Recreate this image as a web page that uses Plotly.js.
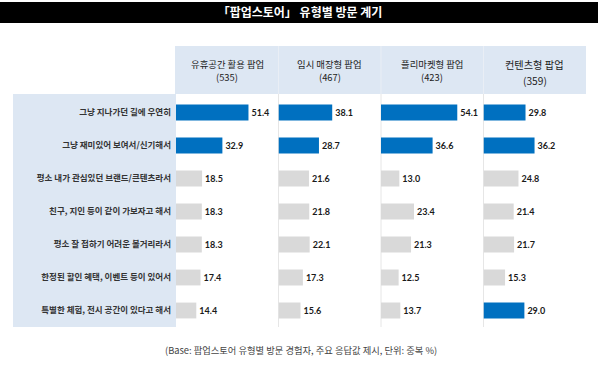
<!DOCTYPE html>
<html>
<head>
<meta charset="utf-8">
<script src="https://cdn.plot.ly/plotly-3.0.1.min.js"></script>
<style>html,body{margin:0;padding:0;background:#fff;}#chart{width:600px;height:375px;}</style>
</head>
<body>
<div id="chart"></div>
<script>
const chartTitle = '「팝업스토어」 유형별 방문 계기';
const categories = [
  '그냥 지나가던 길에 우연히',
  '그냥 재미있어 보여서/신기해서',
  '평소 내가 관심있던 브랜드/콘텐츠라서',
  '친구, 지인 등이 같이 가보자고 해서',
  '평소 잘 접하기 어려운 볼거리라서',
  '한정된 할인 혜택, 이벤트 등이 있어서',
  '특별한 체험, 전시 공간이 있다고 해서'
];
const groupNames = ['유휴공간 활용 팝업', '임시 매장형 팝업', '플리마켓형 팝업', '컨텐츠형 팝업'];
const groupBases = [535, 467, 423, 359];
const idleSpace = [51.4, 32.9, 18.5, 18.3, 18.3, 17.4, 14.4];
const tempStore = [38.1, 28.7, 21.6, 21.8, 22.1, 17.3, 15.6];
const fleaMarket = [54.1, 36.6, 13.0, 23.4, 21.3, 12.5, 13.7];
const contentType = [29.8, 36.2, 24.8, 21.4, 21.7, 15.3, 29.0];
const footnote = '(Base: 팝업스토어 유형별 방문 경험자, 주요 응답값 제시, 단위: 중복 %)';

const series = [idleSpace, tempStore, fleaMarket, contentType];
const highlightMin = 25;
const BLUE = '#0070c0', GRAY = '#d9d9d9';
const KR = '"Noto Sans CJK KR", "Noto Sans", sans-serif';

const L = 176, R = 586, T = 96, B = 327;
const px = x => (x - L) / (R - L);
const py = y => (B - y) / (B - T);

const traces = series.map((vals, i) => ({
  type: 'bar',
  orientation: 'h',
  x: vals,
  y: categories,
  xaxis: i === 0 ? 'x' : 'x' + (i + 1),
  yaxis: 'y',
  marker: { color: vals.map(v => v >= highlightMin ? BLUE : GRAY), line: { width: 0 } },
  texttemplate: '%{x:.1f}',
  textposition: 'outside',
  constraintext: 'none',
  cliponaxis: false,
  textfont: { family: 'Lato, "Open Sans", sans-serif', size: 9, color: '#1a1a1a', weight: 'bold' },
  hoverinfo: 'none',
  showlegend: false
}));

const layout = {
  width: 600, height: 375,
  margin: { l: L, r: 600 - R, t: T, b: 375 - B, pad: 0 },
  paper_bgcolor: '#fff', plot_bgcolor: 'rgba(0,0,0,0)',
  bargap: 0.52,
  title: {
    text: chartTitle,
    font: { family: KR, size: 12, color: '#fff', weight: 'bold' },
    xref: 'container', x: 0.5, xanchor: 'center',
    yref: 'container', y: 1 - 12.5 / 375, yanchor: 'middle'
  },
  yaxis: {
    type: 'category', autorange: 'reversed', anchor: 'x',
    showgrid: false, zeroline: false, showline: false, ticks: '',
    ticklabelstandoff: 4,
    tickfont: { family: KR, size: 8.5, color: '#333', weight: 'bold' }
  },
  shapes: [],
  annotations: []
};

for (let i = 0; i < 4; i++) {
  const key = i === 0 ? 'xaxis' : 'xaxis' + (i + 1);
  layout[key] = {
    domain: [i * 0.25, (i + 1) * 0.25],
    range: [0, 72.7],
    visible: false,
    anchor: 'y',
    fixedrange: true
  };
}

// title bar
layout.shapes.push({ type: 'rect', xref: 'paper', yref: 'paper', x0: px(0), x1: px(598), y0: py(23), y1: py(2), fillcolor: '#000', line: { width: 0 }, layer: 'below' });
// header band
layout.shapes.push({ type: 'rect', xref: 'paper', yref: 'paper', x0: px(175), x1: px(586), y0: py(94), y1: py(46), fillcolor: '#dde7f3', line: { width: 0 }, layer: 'below' });
// left label panel
layout.shapes.push({ type: 'rect', xref: 'paper', yref: 'paper', x0: px(13), x1: px(176), y0: py(327), y1: py(94), fillcolor: '#dde7f3', line: { width: 0 }, layer: 'below' });
// column dividers
[1, 2, 3].forEach(k => {
  const xd = k * 0.25;
  layout.shapes.push({ type: 'line', xref: 'paper', yref: 'paper', x0: xd, x1: xd, y0: py(327), y1: py(94), line: { color: '#e6e6e6', width: 1 }, layer: 'below' });
  layout.shapes.push({ type: 'line', xref: 'paper', yref: 'paper', x0: xd, x1: xd, y0: py(94), y1: py(46), line: { color: '#e9eef5', width: 1 }, layer: 'below' });
});

groupNames.forEach((name, i) => {
  const big = i === 3;
  const fs = big ? 10.2 : 9.4;
  layout.annotations.push({
    xref: 'paper', yref: 'paper', x: (i + 0.5) * 0.25, y: py(big ? 64.5 : 64.5),
    text: name, showarrow: false, xanchor: 'center', yanchor: 'middle',
    font: { family: KR, size: fs, color: '#222' }
  });
  layout.annotations.push({
    xref: 'paper', yref: 'paper', x: (i + 0.5) * 0.25, y: py(big ? 80.5 : 77),
    text: '(' + groupBases[i] + ')', showarrow: false, xanchor: 'center', yanchor: 'middle',
    font: { family: KR, size: fs, color: '#222' }
  });
});

layout.annotations.push({
  xref: 'paper', yref: 'paper', x: px(301), y: py(350),
  text: footnote, showarrow: false, xanchor: 'center', yanchor: 'middle',
  font: { family: KR, size: 9.3, color: '#444' }
});

Plotly.newPlot('chart', traces, layout, { staticPlot: true, displayModeBar: false });
</script>
</body>
</html>
